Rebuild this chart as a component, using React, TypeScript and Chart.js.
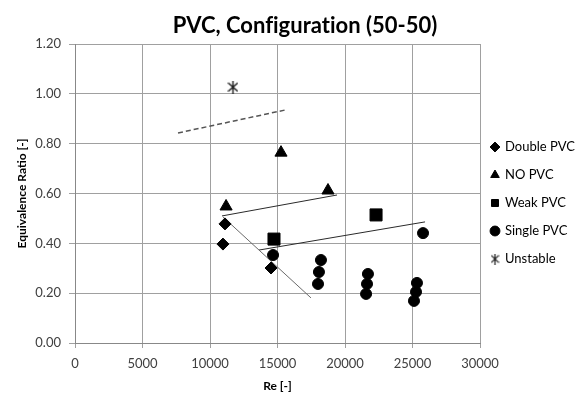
import React, { useEffect, useRef } from "react";
import { Chart, registerables } from "chart.js";
Chart.register(...registerables);

const chartTitle = "PVC, Configuration (50-50)";
const xTitle = "Re [-]";
const yTitle = "Equivalence Ratio [-]";
const seriesNames = ["Double PVC", "NO PVC", "Weak PVC", "Single PVC", "Unstable"];

// Measured points (Re, equivalence ratio)
const doubleRe = [11110, 10960, 14520];
const doublePhi = [0.478, 0.397, 0.301];
const noRe = [11190, 15260, 18740];
const noPhi = [0.548, 0.764, 0.612];
const weakRe = [14740, 22300];
const weakPhi = [0.417, 0.514];
const singleRe = [14670, 18220, 18070, 18000, 21700, 21630, 21560, 25780, 25330, 25260, 25110];
const singlePhi = [0.353, 0.333, 0.285, 0.237, 0.277, 0.237, 0.197, 0.441, 0.241, 0.205, 0.169];
const unstableRe = [11700];
const unstablePhi = [1.027];

// Trend line end points
const doubleTrendRe = [10960, 17480];
const doubleTrendPhi = [0.506, 0.181];
const noTrendRe = [10890, 19410];
const noTrendPhi = [0.51, 0.594];
const weakTrendRe = [13630, 25930];
const weakTrendPhi = [0.373, 0.486];
const unstableTrendRe = [7630, 15560];
const unstableTrendPhi = [0.843, 0.935];

const xMin = 0;
const xMax = 30000;
const xStep = 5000;
const yMin = 0;
const yMax = 1.2;
const yStep = 0.2;

const toPts = (xs: number[], ys: number[]) => xs.map((x, i) => ({ x, y: ys[i] }));

function makeStar(w: number, h: number, color: string, lw: number) {
  const c = document.createElement("canvas");
  c.width = w;
  c.height = h;
  const g = c.getContext("2d")!;
  g.strokeStyle = color;
  g.lineWidth = lw;
  const mx = w / 2;
  const my = h / 2;
  const ax = w / 2 - 0.7;
  const ay = h * 0.33;
  g.beginPath();
  g.moveTo(mx - ax, my - ay);
  g.lineTo(mx + ax, my + ay);
  g.moveTo(mx + ax, my - ay);
  g.lineTo(mx - ax, my + ay);
  g.moveTo(mx, 0);
  g.lineTo(mx, h);
  g.stroke();
  return c;
}

export default function App() {
  const ref = useRef<HTMLCanvasElement | null>(null);
  useEffect(() => {
    document.body.style.margin = "0";
    const canvas = ref.current!;
    const star = makeStar(11, 13, "#1a1a1a", 1.4);
    const smallStar = makeStar(9, 11, "#1a1a1a", 1.2);
    const font = { family: "Lato", size: 13 };
    const layoutFix = {
      id: "layoutFix",
      beforeLayout(chart: any) {
        const lg = chart.legend;
        if (lg && !lg.__fixed) {
          lg.__fixed = true;
          const fit = lg.fit.bind(lg);
          lg.fit = function () {
            fit();
            this.width = 103;
          };
          const draw = lg.draw.bind(lg);
          lg.draw = function () {
            const l = this.left;
            const t = this.top;
            this.left = 476.5;
            this.top = 125.5;
            draw();
            this.left = l;
            this.top = t;
          };
        }
      },
      afterDraw(chart: any) {
        const ctx = chart.ctx;
        ctx.save();
        ctx.font = "bold 22px Lato";
        ctx.fillStyle = "#000";
        ctx.textAlign = "center";
        ctx.textBaseline = "alphabetic";
        (ctx as any).textRendering = "optimizeSpeed";
        ctx.fillText(chartTitle, 305, 33);
        ctx.restore();
      },
    };
    const marker = (style: any, radius: number) => ({
      pointStyle: style,
      pointRadius: radius,
      pointHoverRadius: radius,
      backgroundColor: "#000",
      borderColor: "#000",
      borderWidth: 1,
    });
    const trend = (color: string, width: number, dash: number[]) => ({
      label: "",
      showLine: true,
      pointRadius: 0,
      pointHoverRadius: 0,
      borderColor: color,
      borderWidth: width,
      borderDash: dash,
      fill: false,
    });
    const chart = new Chart(canvas, {
      type: "scatter",
      data: {
        datasets: [
          { label: seriesNames[0], data: toPts(doubleRe, doublePhi), ...marker("rectRot", 6) },
          { label: seriesNames[1], data: toPts(noRe, noPhi), ...marker("triangle", 7) },
          { label: seriesNames[2], data: toPts(weakRe, weakPhi), ...marker("rect", 8.5) },
          { label: seriesNames[3], data: toPts(singleRe, singlePhi), ...marker("circle", 5.5) },
          {
            label: seriesNames[4],
            data: toPts(unstableRe, unstablePhi),
            pointStyle: star,
            pointRadius: 6,
            backgroundColor: "#1a1a1a",
            borderColor: "#1a1a1a",
            borderWidth: 1,
          },
          { data: toPts(doubleTrendRe, doubleTrendPhi), ...trend("#6a6a6a", 1, []) },
          { data: toPts(noTrendRe, noTrendPhi), ...trend("#2a2a2a", 1, []) },
          { data: toPts(weakTrendRe, weakTrendPhi), ...trend("#2a2a2a", 1, []) },
          { data: toPts(unstableTrendRe, unstableTrendPhi), ...trend("#555", 1.5, [5, 3]) },
        ] as any,
      },
      options: {
        animation: false,
        responsive: false,
        events: [],
        layout: { padding: { top: 44, left: 0, right: 0, bottom: 0 } },
        plugins: {
          title: { display: false },
          legend: {
            position: "right",
            align: "start",
            labels: {
              usePointStyle: true,
              boxWidth: 7,
              boxHeight: 7,
              padding: 15,
              color: "#000",
              font: { family: "Lato", size: 13 },
              filter: (item: any) => item.datasetIndex < 5,
              generateLabels: (c: any) =>
                (Chart.defaults.plugins.legend.labels.generateLabels as any)(c).map((l: any) =>
                  l.datasetIndex === 4 ? { ...l, pointStyle: smallStar } : l
                ),
            },
          },
          tooltip: { enabled: false },
        },
        scales: {
          x: {
            type: "linear",
            min: xMin,
            max: xMax,
            ticks: { stepSize: xStep, color: "#404040", font, padding: 8, callback: (v: any) => String(v) },
            grid: { color: "#a0a0a0", tickLength: 5 },
            border: { color: "#888" },
            title: {
              display: true,
              text: xTitle,
              color: "#000",
              font: { family: "Lato", size: 12, weight: "bold" },
              padding: { top: 4, bottom: 1 },
            },
            afterFit: (s: any) => {
              s.height = 51;
            },
          },
          y: {
            type: "linear",
            min: yMin,
            max: yMax,
            ticks: {
              stepSize: yStep,
              color: "#404040",
              font,
              padding: 8,
              callback: (v: any) => Number(v).toFixed(2),
            },
            grid: { color: "#a0a0a0", tickLength: 6 },
            border: { color: "#888" },
            title: {
              display: true,
              text: yTitle,
              color: "#000",
              font: { family: "Lato", size: 12, weight: "bold" },
              padding: { top: 15, bottom: 4 },
            },
            afterFit: (s: any) => {
              s.width = 75;
            },
          },
        },
      } as any,
      plugins: [layoutFix],
    });
    return () => chart.destroy();
  }, []);
  return (
    <div style={{ width: 583, height: 394 }}>
      <canvas ref={ref} width={583} height={394} style={{ display: "block" }} />
    </div>
  );
}
